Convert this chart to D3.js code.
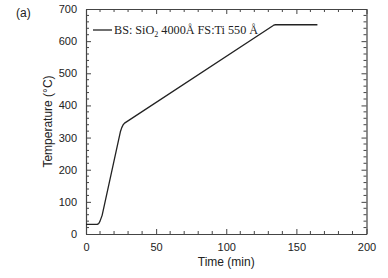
<!DOCTYPE html>
<html><head><meta charset="utf-8">
<script src="https://cdn.jsdelivr.net/npm/d3@7"></script>
<style>body{margin:0;background:#fff}svg{display:block}</style>
</head><body>
<script>
const timeMin = [0, 8, 9, 10, 11.5, 24.5, 25.5, 26.5, 27.5, 133, 134, 135, 165];
const tempC   = [30, 30, 32, 40, 58, 318, 331, 340, 345, 647, 650, 651, 651];
const xTicks = [0, 50, 100, 150, 200];
const yTicks = [0, 100, 200, 300, 400, 500, 600, 700];

const W = 388, H = 278;
const m = {l: 86, r: 21.5, t: 9, b: 44};
const svg = d3.select("body").append("svg").attr("width", W).attr("height", H);
const x = d3.scaleLinear().domain([0, 200]).range([m.l, W - m.r]);
const y = d3.scaleLinear().domain([0, 700]).range([H - m.b, m.t]);
const axisCol = "#444";
const g = svg.append("g");

function styleAxis(sel) {
  sel.select(".domain").attr("stroke", axisCol).attr("stroke-width", 1.2);
  sel.selectAll(".tick line").attr("stroke", axisCol).attr("stroke-width", 1);
  sel.selectAll("text").attr("font-family", "Liberation Sans, Arial, sans-serif").attr("font-size", 11).attr("fill", "#222");
}
const xMinor = d3.range(0, 201, 10).filter(v => v % 50 !== 0);
const yMinor = d3.range(0, 701, 20).filter(v => v % 100 !== 0);

const minor = g.append("g").attr("stroke", axisCol).attr("stroke-width", 1);
xMinor.forEach(v => {
  minor.append("line").attr("x1", x(v)).attr("x2", x(v)).attr("y1", y(0)).attr("y2", y(0) - 3);
  minor.append("line").attr("x1", x(v)).attr("x2", x(v)).attr("y1", y(700)).attr("y2", y(700) + 3);
});
yMinor.forEach(v => {
  minor.append("line").attr("x1", x(0)).attr("x2", x(0) + 3).attr("y1", y(v)).attr("y2", y(v));
  minor.append("line").attr("x1", x(200)).attr("x2", x(200) - 3).attr("y1", y(v)).attr("y2", y(v));
});

const xb = g.append("g").attr("transform", `translate(0,${y(0)})`)
  .call(d3.axisBottom(x).tickValues(xTicks).tickSizeInner(-5).tickSizeOuter(0).tickPadding(9));
styleAxis(xb);
const xt = g.append("g").attr("transform", `translate(0,${y(700)})`)
  .call(d3.axisTop(x).tickValues(xTicks).tickSizeInner(-5).tickSizeOuter(0).tickFormat(""));
styleAxis(xt);
const yl = g.append("g").attr("transform", `translate(${x(0)},0)`)
  .call(d3.axisLeft(y).tickValues(yTicks).tickSizeInner(-5).tickSizeOuter(0).tickPadding(9));
styleAxis(yl);
const yr = g.append("g").attr("transform", `translate(${x(200)},0)`)
  .call(d3.axisRight(y).tickValues(yTicks).tickSizeInner(-5).tickSizeOuter(0).tickFormat(""));
styleAxis(yr);

const data = timeMin.map((t, i) => [t, tempC[i]]);
g.append("path").datum(data)
  .attr("fill", "none").attr("stroke", "#222").attr("stroke-width", 1.3)
  .attr("stroke-linejoin", "round")
  .attr("d", d3.line().x(d => x(d[0])).y(d => y(d[1])));

// legend
g.append("line").attr("x1", 93).attr("x2", 112).attr("y1", 30).attr("y2", 30)
  .attr("stroke", "#222").attr("stroke-width", 1.3);
const lt = g.append("text").attr("x", 114).attr("y", 34)
  .attr("font-family", "Liberation Serif, Times New Roman, serif").attr("font-size", 12.2).attr("fill", "#222");
lt.append("tspan").text("BS: SiO");
lt.append("tspan").text("2").attr("font-size", 8).attr("dy", 2.5);
lt.append("tspan").text(" 4000Å FS:Ti 550 Å").attr("dy", -2.5);

// axis titles
svg.append("text").attr("x", (x(0) + x(200)) / 2).attr("y", 266).attr("text-anchor", "middle")
  .attr("font-family", "Liberation Sans, Arial, sans-serif").attr("font-size", 12).attr("fill", "#222")
  .text("Time (min)");
svg.append("text").attr("transform", `translate(52,121.5) rotate(-90)`).attr("text-anchor", "middle")
  .attr("font-family", "Liberation Sans, Arial, sans-serif").attr("font-size", 12).attr("fill", "#222")
  .text("Temperature (°C)");
svg.append("text").attr("x", 16).attr("y", 17)
  .attr("font-family", "Liberation Sans, Arial, sans-serif").attr("font-size", 12).attr("fill", "#222")
  .text("(a)");
</script>
</body></html>
